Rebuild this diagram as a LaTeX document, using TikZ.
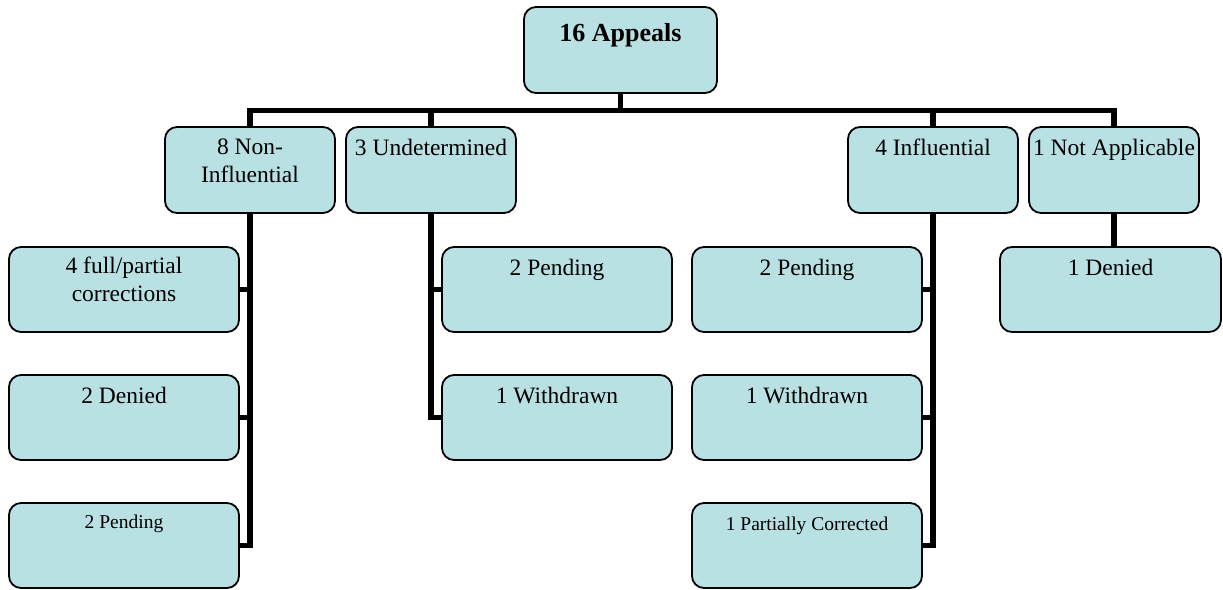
\documentclass[tikz,border=0pt]{standalone}
\usepackage{fontspec}
\setmainfont{Liberation Serif}
\usetikzlibrary{backgrounds}
\definecolor{boxfill}{RGB}{185,224,227}
\begin{document}
\begin{tikzpicture}[x=1pt,y=-1pt,
  box/.style={draw=black, line width=1.8pt, fill=boxfill, rounded corners=12pt, inner sep=0pt},
  topbox/.style={box, minimum width=193pt, minimum height=86pt},
  midbox/.style={box, minimum width=170pt, minimum height=86pt},
  childbox/.style={box, minimum width=230pt, minimum height=85pt},
  lbl/.style={anchor=base, inner sep=0pt, align=center, font=\fontsize{23.5}{28}\selectfont},
  smalllbl/.style={anchor=base, inner sep=0pt, align=center, font=\fontsize{19.5}{24}\selectfont},
  toplbl/.style={anchor=base, inner sep=0pt, font=\fontsize{26}{30}\selectfont\bfseries},
  conn/.style={line width=5.5pt, draw=black, line join=miter}]
\useasboundingbox (0,0) rectangle (1223,589);
% top
\node[topbox] (top) at (620.5,50) {};
\node[toplbl] (ttop) at (620.5,41) {16 Appeals};
% level 1
\node[midbox] (ni) at (250,170) {};
\node[midbox] (ud) at (431,170) {};
\node[midbox] (in) at (933,170) {};
\node[midbox] (na) at (1114,170) {};
\node[lbl] (tni) at (250,182) {8 Non-\\Influential};
\node[lbl] (tud) at (431,155) {3 Undetermined};
\node[lbl] (tin) at (933,155) {4 Influential};
\node[lbl] (tna) at (1114,155) {1 Not Applicable};
% non-influential children
\node[childbox] (ni1) at (124,289.5) {};
\node[childbox] (ni2) at (124,417.5) {};
\node[childbox] (ni3) at (124,545.5) {};
\node[lbl] (tni1) at (124,301) {4 full/partial\\corrections};
\node[lbl] (tni2) at (124,403) {2 Denied};
\node[smalllbl] (tni3) at (124,528) {2 Pending};
% undetermined children
\node[childbox] (ud1) at (557,289.5) {};
\node[childbox] (ud2) at (557,417.5) {};
\node[lbl] (tud1) at (557,275) {2 Pending};
\node[lbl] (tud2) at (557,403) {1 Withdrawn};
% influential children
\node[childbox] (in1) at (807,289.5) {};
\node[childbox] (in2) at (807,417.5) {};
\node[childbox] (in3) at (807,545.5) {};
\node[lbl] (tin1) at (807,275) {2 Pending};
\node[lbl] (tin2) at (807,403) {1 Withdrawn};
\node[smalllbl] (tin3) at (807,530) {1 Partially Corrected};
% not applicable child
\node[box, minimum width=221pt, minimum height=85pt] (na1) at (1110.5,289.5) {};
\node[lbl] (tna1) at (1110.5,275) {1 Denied};
\coordinate (bus) at (0,110.5);
\begin{scope}[on background layer]
  \draw[conn] (top.south) -- (top.south |- bus);
  \draw[conn] (ni.north) -- (ni.north |- bus) -- (na.north |- bus) -- (na.north);
  \draw[conn] (ud.north) -- (ud.north |- bus);
  \draw[conn] (in.north) -- (in.north |- bus);
  % NI branch
  \draw[conn] (ni.south) -- (ni.south |- ni3.east) -- (ni3.east);
  \draw[conn] (ni1.east) -- (ni1.east -| ni.south);
  \draw[conn] (ni2.east) -- (ni2.east -| ni.south);
  % UD branch
  \draw[conn] (ud.south) -- (ud.south |- ud2.west) -- (ud2.west);
  \draw[conn] (ud1.west) -- (ud1.west -| ud.south);
  % IN branch
  \draw[conn] (in.south) -- (in.south |- in3.east) -- (in3.east);
  \draw[conn] (in1.east) -- (in1.east -| in.south);
  \draw[conn] (in2.east) -- (in2.east -| in.south);
  % NA branch
  \draw[conn] (na.south) -- (na.south |- na1.north);
\end{scope}
\end{tikzpicture}
\end{document}
